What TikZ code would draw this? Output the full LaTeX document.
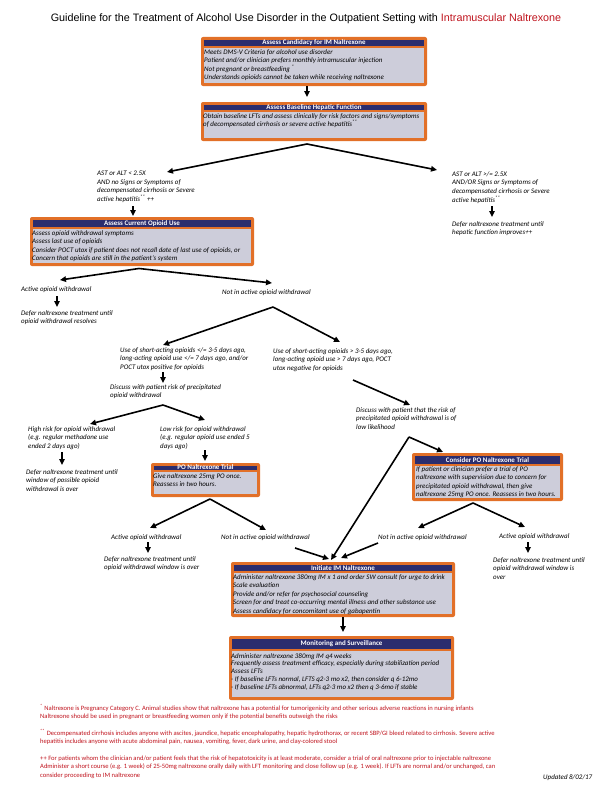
\documentclass[tikz,border=0pt]{standalone}
\usepackage{fontspec}
\setmainfont{Carlito}
\newfontfamily\titlefont{Liberation Sans}
\usetikzlibrary{arrows.meta,fit}
\definecolor{orangec}{RGB}{226,112,40}
\definecolor{navyc}{RGB}{43,45,110}
\definecolor{bodyc}{RGB}{205,205,218}
\definecolor{redc}{RGB}{192,20,30}
\newcommand{\tlines}[2][8.5bp]{\vtop{\baselineskip=#1\relax\lineskiplimit=-20pt\halign{##\hfil\cr#2\crcr}}}
\newcommand{\flowbox}[7]{%
  \node[boxframe, fit={(#2,#3) (#4,#5)}] (#1) {};
  \fill[navyc] (#2+2.6,#3+2.6) rectangle (#4-2.6,#6);
  \fill[bodyc] (#2+2.6,#6+2.2) rectangle (#4-2.6,#5-3);
  \node[hdrtext] (#1-h) at ({(#2+#4)/2},{(#3+2.6+#6)/2}) {#7};
}
\tikzset{
  arr/.style={line width=1.6bp, -{Triangle[length=6bp,width=5.5bp]}},
  ftext/.style={inner sep=0, anchor=base west, font=\fontsize{7}{8.5}\selectfont\itshape},
  hdrtext/.style={inner sep=0, text=white, font=\fontsize{7}{8}\selectfont\bfseries},
  boxframe/.style={fill=orangec, rounded corners=2bp, inner sep=0},
  fnote/.style={inner sep=0, anchor=base west, text=redc, font=\fontsize{6.6}{8}\selectfont}
}
\begin{document}
\begin{tikzpicture}[x=1bp,y=-1bp]
\useasboundingbox (0,0) rectangle (612,792);
\fill[white] (0,0) rectangle (612,792);

\node[inner sep=0, anchor=base, font=\titlefont\fontsize{10.8}{12}\selectfont] (title) at (306,22)
  {Guideline for the Treatment of Alcohol Use Disorder in the Outpatient Setting with \textcolor{redc}{Intramuscular Naltrexone}};

% Box 1
\flowbox{b1}{201}{37}{427}{86}{46}{Assess Candidacy for IM Naltrexone}
\node[ftext] (b1-t) at (204,54.5) {\tlines[8.3bp]{Meets DMS-V Criteria for alcohol use disorder\cr
Patient and/or clinician prefers monthly intramuscular injection\cr
Not pregnant or breastfeeding \textsuperscript{*}\cr
Understands opioids cannot be taken while receiving naltrexone}};

% Box 2
\flowbox{b2}{201}{102}{427}{141}{110}{Assess Baseline Hepatic Function}
\node[ftext] (b2-t) at (203,118) {\tlines[8.3bp]{Obtain baseline LFTs and assess clinically for risk factors and signs/symptoms\cr
of decompensated cirrhosis or severe active hepatitis\textsuperscript{**}}};

\coordinate (p1e) at (307,97);
\draw[arr] (b1.south -| p1e) -- (p1e);

\coordinate (a1) at (307,144);
\coordinate (t1L) at (167,172);
\coordinate (t1R) at (437,170);
\draw[arr] (a1) -- (t1L);
\draw[arr] (a1) -- (t1R);

\node[ftext] (astlow) at (97,175.5) {\tlines[8.7bp]{AST or ALT < 2.5X\cr
AND no Signs or Symptoms of\cr
decompensated cirrhosis or Severe\cr
active hepatitis\textsuperscript{**} ++}};
\node[ftext] (asthigh) at (452,176) {\tlines[8.7bp]{AST or ALT >/= 2.5X\cr
AND/OR Signs or Symptoms of\cr
decompensated cirrhosis or Severe\cr
active hepatitis\textsuperscript{**}}};

% Box 3
\flowbox{b3}{30}{217}{254}{266}{227}{Assess Current Opioid Use}
\node[ftext] (b3-t) at (32,235) {\tlines[8.5bp]{Assess opioid withdrawal symptoms\cr
Assess last use of opioids\cr
Consider POCT utox if patient does not recall date of last use of opioids, or\cr
Concern that opioids are still in the patient's system}};

\coordinate (p2s) at (133,206);
\coordinate (p2e) at (133,216);
\draw[arr] (p2s) -- (p2e);
\coordinate (p3s) at (492,206);
\coordinate (p3e) at (492,217);
\draw[arr] (p3s) -- (p3e);

\node[ftext] (deferhep) at (452,226) {\tlines[8.7bp]{Defer naltrexone treatment until\cr
hepatic function improves++}};

\coordinate (a3) at (139,268.5);
\coordinate (t3L) at (60,280);
\coordinate (t3R) at (272,283);
\draw[arr] (a3) -- (t3L);
\draw[arr] (a3) -- (t3R);

\node[ftext] (actw1) at (21,291) {Active opioid withdrawal};
\node[ftext] (notw1) at (222,294) {Not in active opioid withdrawal};
\coordinate (p4s) at (57,296);
\coordinate (p4e) at (57,307);
\draw[arr] (p4s) -- (p4e);
\node[ftext] (deferw1) at (21,315) {\tlines[8.6bp]{Defer naltrexone treatment until\cr
opioid withdrawal resolves}};

\coordinate (a4) at (273,307);
\coordinate (t4L) at (163,345);
\coordinate (t4R) at (340,342);
\draw[arr] (a4) -- (t4L);
\draw[arr] (a4) -- (t4R);

\node[ftext] (shortpos) at (120,352) {\tlines[8.6bp]{Use of short-acting opioids </= 3-5 days ago,\cr
long-acting opioid use </= 7 days ago, and/or\cr
POCT utox positive for opioids}};
\node[ftext] (shortneg) at (273,353) {\tlines[8.6bp]{Use of short-acting opioids > 3-5 days ago,\cr
long-acting opioid use > 7 days ago, POCT\cr
utox negative for opioids}};

\coordinate (p5s) at (163,372);
\coordinate (p5e) at (163,383);
\draw[arr] (p5s) -- (p5e);
\node[ftext] (discrisk) at (110,389) {\tlines[8.8bp]{Discuss with patient risk of precipitated\cr
opioid withdrawal}};

\coordinate (p6s) at (353,380);
\coordinate (p6e) at (410,405);
\draw[arr] (p6s) -- (p6e);
\node[ftext] (disclow) at (356,412) {\tlines[8.6bp]{Discuss with patient that the risk of\cr
precipitated opioid withdrawal is of\cr
low likelihood}};

\coordinate (a5) at (163,405);
\coordinate (t5L) at (90,424);
\coordinate (t5R) at (205,420);
\draw[arr] (a5) -- (t5L);
\draw[arr] (a5) -- (t5R);

\node[ftext] (highrisk) at (28,431) {\tlines[8.6bp]{High risk for opioid withdrawal\cr
(e.g. regular methadone use\cr
ended 2 days ago)}};
\node[ftext] (lowrisk) at (160,431) {\tlines[8.6bp]{Low risk for opioid withdrawal\cr
(e.g. regular opioid use ended 5\cr
days ago)}};

\coordinate (p7s) at (62,452);
\coordinate (p7e) at (62,465);
\draw[arr] (p7s) -- (p7e);
\node[ftext] (deferwin) at (26,474) {\tlines[8.6bp]{Defer naltrexone treatment until\cr
window of possible opioid\cr
withdrawal is over}};

\coordinate (p8s) at (205,450);
\coordinate (p8e) at (205,461);
\draw[arr] (p8s) -- (p8e);

% PO trial box
\flowbox{b4}{151}{463}{260}{497}{469.5}{PO Naltrexone Trial}
\node[ftext] (b4-t) at (153,478) {\tlines[8.8bp]{Give naltrexone 25mg PO once.\cr
Reassess in two hours.}};

\coordinate (a6) at (210,499);
\coordinate (t6L) at (150,528);
\coordinate (t6R) at (266,530);
\draw[arr] (a6) -- (t6L);
\draw[arr] (a6) -- (t6R);

% Consider PO box
\coordinate (a7) at (409,437);
\coordinate (t7R) at (443,452);
\coordinate (t7L) at (331,560);
\draw[arr] (a7) -- (t7R);
\draw[arr] (a7) -- (t7L);

\flowbox{b5}{412}{453}{563}{501}{464}{Consider PO Naltrexone Trial}
\node[ftext] (b5-t) at (416,471) {\tlines[8.5bp]{If patient or clinician prefer a trial of PO\cr
naltrexone with supervision due to concern for\cr
precipitated opioid withdrawal, then give\cr
naltrexone 25mg PO once. Reassess in two hours.}};

\coordinate (a8) at (473,503);
\coordinate (t8L) at (418,528);
\coordinate (t8R) at (525,527);
\draw[arr] (a8) -- (t8L);
\draw[arr] (a8) -- (t8R);

\node[ftext] (actw2) at (111,539) {Active opioid withdrawal};
\coordinate (p9s) at (148,542);
\coordinate (p9e) at (148,553);
\draw[arr] (p9s) -- (p9e);
\node[ftext] (deferw2) at (104,561) {\tlines[8.5bp]{Defer naltrexone treatment until\cr
opioid withdrawal window is over}};

\node[ftext] (notw2) at (221,539) {Not in active opioid withdrawal};
\coordinate (p10s) at (295,548);
\coordinate (p10e) at (329,559);
\draw[arr] (p10s) -- (p10e);

\node[ftext] (notw3) at (378,539) {Not in active opioid withdrawal};
\coordinate (p11s) at (378,543);
\coordinate (p11e) at (341,558);
\draw[arr] (p11s) -- (p11e);

\node[ftext] (actw3) at (499,538) {Active opioid withdrawal};
\coordinate (p12s) at (528,542);
\coordinate (p12e) at (528,553);
\draw[arr] (p12s) -- (p12e);
\node[ftext] (deferw3) at (493,562) {\tlines[8.5bp]{Defer naltrexone treatment until\cr
opioid withdrawal window is\cr
over}};

% Initiate box
\flowbox{b6}{231}{562}{455}{617}{571}{Initiate IM Naltrexone}
\node[ftext] (b6-t) at (233,579) {\tlines[8.5bp]{Administer naltrexone 380mg IM x 1 and order SW consult for urge to drink\cr
Scale evaluation\cr
Provide and/or refer for psychosocial counseling\cr
Screen for and treat co-occurring mental illness and other substance use\cr
Assess candidacy for concomitant use of gabapentin}};

\coordinate (p13e) at (343,632);
\draw[arr] (b6.south -| p13e) -- (p13e);

% Monitoring box
\flowbox{b7}{229}{636}{454}{700}{649}{Monitoring and Surveillance}
\node[ftext] (b7-t) at (231,658) {\tlines[7.8bp]{Administer naltrexone 380mg IM q4 weeks\cr
Frequently assess treatment efficacy, especially during stabilization period\cr
Assess LFTs\cr
- If baseline LFTs normal, LFTS q2-3 mo x2, then consider q 6-12mo\cr
- If baseline LFTs abnormal, LFTs q2-3 mo x2 then q 3-6mo if stable}};

% Footnotes
\node[fnote] (fn1) at (40,710) {\tlines[8.8bp]{\textsuperscript{*} Naltrexone is Pregnancy Category C. Animal studies show that naltrexone has a potential for tumorigenicity and other serious adverse reactions in nursing infants\cr
Naltrexone should be used in pregnant or breastfeeding women only if the potential benefits outweigh the risks}};
\node[fnote] (fn2) at (40,735) {\tlines[8.8bp]{\textsuperscript{**} Decompensated cirrhosis includes anyone with ascites, jaundice, hepatic encephalopathy, hepatic hydrothorax, or recent SBP/GI bleed related to cirrhosis. Severe active\cr
hepatitis includes anyone with acute abdominal pain, nausea, vomiting, fever, dark urine, and clay-colored stool}};
\node[fnote] (fn3) at (40,760) {\tlines[8.6bp]{++ For patients whom the clinician and/or patient feels that the risk of hepatotoxicity is at least moderate, consider a trial of oral naltrexone prior to injectable naltrexone\cr
Administer a short course (e.g. 1 week) of 25-50mg naltrexone orally daily with LFT monitoring and close follow up (e.g. 1 week). If LFTs are normal and/or unchanged, can\cr
consider proceeding to IM naltrexone}};
\node[ftext] (updated) at (543,779) {Updated 8/02/17};
\end{tikzpicture}
\end{document}
